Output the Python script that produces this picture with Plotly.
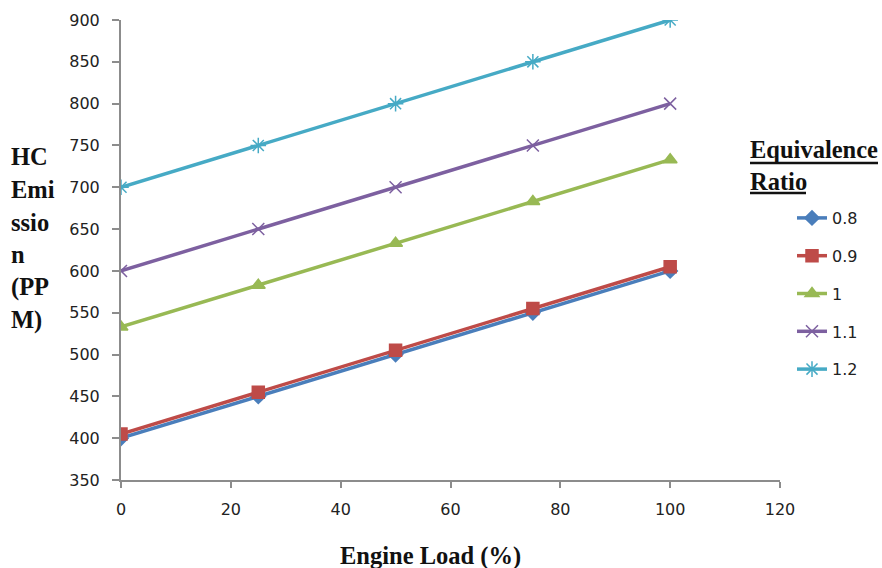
import plotly.graph_objects as go

load = [0, 25, 50, 75, 100]
ratios = ["0.8", "0.9", "1", "1.1", "1.2"]
hc_08 = [400, 450, 500, 550, 600]
hc_09 = [405, 455, 505, 555, 605]
hc_10 = [533, 583, 633, 683, 733]
hc_11 = [600, 650, 700, 750, 800]
hc_12 = [700, 750, 800, 850, 900]
series = [hc_08, hc_09, hc_10, hc_11, hc_12]
colors = ["#4A7EBB", "#BE4B48", "#98B954", "#7D60A0", "#46AAC5"]
symbols = ["diamond", "square", "triangle-up", "x-thin-open", "asterisk-open"]
sizes = [11, 12, 12, 12, 13]
y_title_lines = ["HC", "Emi", "ssio", "n", "(PP", "M)"]

W, H = 882, 568
L, R, T, B = 121, 780, 20, 480


def px(x):
    return (x - L) / (R - L)


def py(y):
    return (B - y) / (B - T)


fig = go.Figure()
for name, vals, c, s, sz in zip(ratios, series, colors, symbols, sizes):
    fig.add_trace(go.Scatter(
        x=load, y=vals, name=name, mode="lines+markers",
        legendgroup=name,
        line=dict(color=c, width=3.5),
        marker=dict(symbol=s, size=sz, color=c, line=dict(color=c, width=1.5)),
    ))

tickfont = dict(family="DejaVu Sans", size=16, color="#222")
axcol = "#8C8C8C"
fig.update_xaxes(range=[0, 120], tickvals=[0, 20, 40, 60, 80, 100, 120],
                 showline=True, linecolor=axcol, linewidth=2, ticks="outside",
                 tickcolor=axcol, ticklen=6, tickwidth=2, showgrid=False,
                 zeroline=False, tickfont=tickfont, ticklabelstandoff=8)
fig.update_yaxes(range=[350, 900], tickvals=list(range(350, 901, 50)),
                 showline=True, linecolor=axcol, linewidth=2, ticks="outside",
                 tickcolor=axcol, ticklen=7, tickwidth=2, showgrid=False,
                 zeroline=False, tickfont=tickfont, ticklabelstandoff=9)

titlefont = dict(family="Liberation Serif", size=24.5, color="#111")
ann = []
for i, t in enumerate(y_title_lines):
    ann.append(dict(text="<b>%s</b>" % t, x=px(9), y=py(157 + i * 32.5),
                    xref="paper", yref="paper", xanchor="left", yanchor="middle",
                    showarrow=False, font=titlefont))
ann.append(dict(text="<b>Engine Load (%)</b>", x=px(430), y=py(556),
                xref="paper", yref="paper", xanchor="center", yanchor="middle",
                showarrow=False, font=titlefont))
for i, t in enumerate(["Equivalence", "Ratio"]):
    ann.append(dict(text="<b>%s</b>" % t,
                    x=px(748), y=py(149 + i * 32),
                    xref="paper", yref="paper", xanchor="left", yanchor="middle",
                    showarrow=False, font=titlefont))

shapes = [
    dict(type="line", xref="paper", yref="paper", x0=px(750), x1=px(878),
         y0=py(163), y1=py(163), line=dict(color="#111", width=2.5)),
    dict(type="line", xref="paper", yref="paper", x0=px(750), x1=px(806),
         y0=py(193), y1=py(193), line=dict(color="#111", width=2.5)),
]

fig.update_layout(
    width=W, height=H, autosize=False,
    margin=dict(l=L, r=W - R, t=T, b=H - B),
    paper_bgcolor="white", plot_bgcolor="white",
    showlegend=True,
    legend=dict(x=px(792), y=py(201), xref="paper", yref="paper",
                xanchor="left", yanchor="top", tracegroupgap=14,
                font=dict(family="DejaVu Sans", size=16, color="#222"),
                bgcolor="rgba(0,0,0,0)", itemwidth=30),
    annotations=ann,
    shapes=shapes,
)
fig.write_html("out.html")
